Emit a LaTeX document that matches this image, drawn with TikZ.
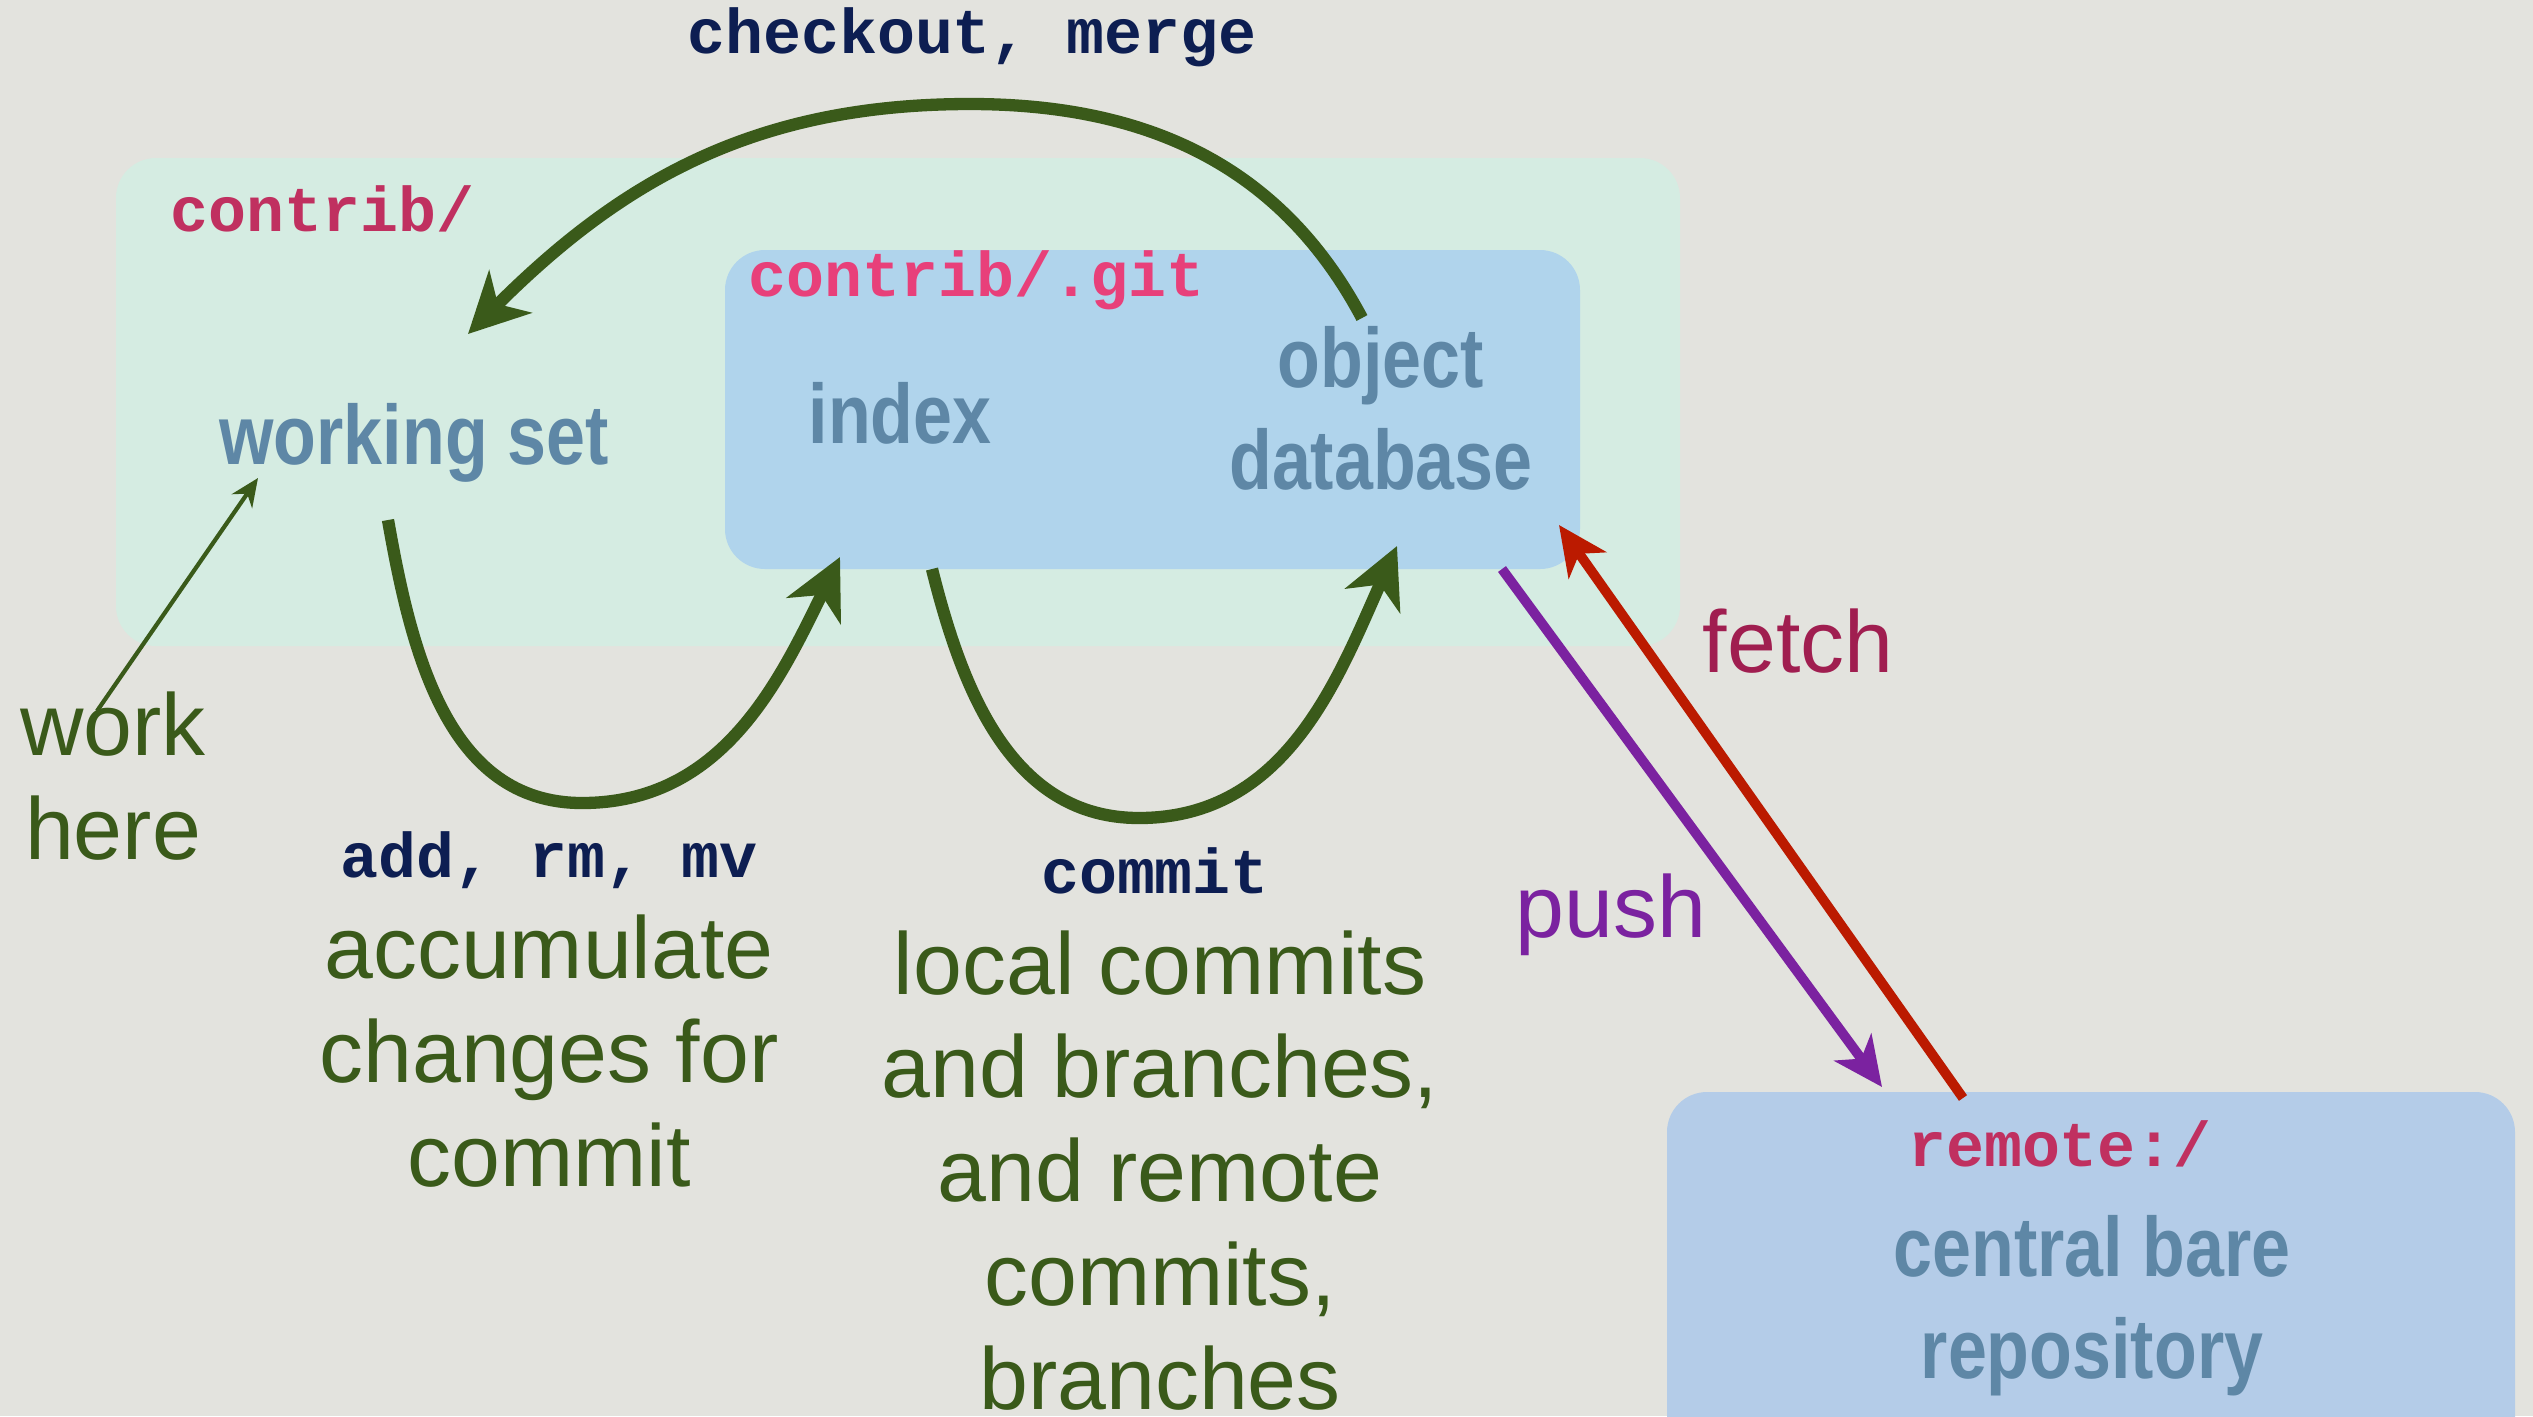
\documentclass[tikz,border=0pt]{standalone}
\usepackage{fontspec}
\setmainfont{Liberation Sans}
\setmonofont{Liberation Mono}
\newfontfamily\condfont[FakeStretch=0.83]{Liberation Sans}
\usetikzlibrary{arrows.meta, positioning}

\definecolor{paper}{RGB}{227,227,222}
\definecolor{workbg}{RGB}{213,236,226}
\definecolor{gitbg}{RGB}{176,212,236}
\definecolor{remotebg}{RGB}{180,204,232}
\definecolor{boxtext}{RGB}{94,135,166}
\definecolor{dirpink}{RGB}{192,48,96}
\definecolor{gitpink}{RGB}{232,64,122}
\definecolor{cmdnavy}{RGB}{13,30,82}
\definecolor{leaf}{RGB}{58,90,26}
\definecolor{pushpurple}{RGB}{123,34,160}
\definecolor{fetchred}{RGB}{187,26,0}
\definecolor{fetchtext}{RGB}{160,30,80}

\begin{document}
\begin{tikzpicture}[
    area/.style={rounded corners=0.4cm},
    place/.style={font=\condfont\bfseries\fontsize{24}{29}\selectfont, text=boxtext, align=center, anchor=base, inner sep=0pt},
    dirname/.style={font=\ttfamily\bfseries\fontsize{18}{21}\selectfont, anchor=base west, inner sep=0pt},
    cmd/.style={font=\ttfamily\bfseries\fontsize{18}{21}\selectfont, text=cmdnavy, anchor=base, inner sep=0pt},
    note/.style={font=\fontsize{25}{29.5}\selectfont, align=center, anchor=base, inner sep=0pt},
    flow/.style={line width=3.5pt, leaf, -{Stealth[length=17pt,width=17pt,inset=5pt]}},
    sync/.style={line width=2.8pt, -{Stealth[length=14pt,width=13pt,inset=4pt]}}
]
    % Paper & frame
    \fill[paper] (0,0) rectangle (25.33,-14.16);
    \clip (0,0) rectangle (25.33,-14.16);

    % Boxes: work tree, .git, remote
    \fill[workbg, area] (1.16,-1.58) rectangle (16.80,-6.46);
    \fill[gitbg, area] (7.25,-2.50) rectangle (15.80,-5.69);
    \fill[remotebg, area] (16.67,-10.92) rectangle (25.15,-14.60);

    % Directory names
    \node[dirname, text=dirpink] (wsdir) at (1.70,-2.31) {contrib/};
    \node[dirname, text=gitpink] (gitdir) at (7.48,-2.96) {contrib/.git};
    \node[dirname, text=dirpink, anchor=base] (remdir) at (20.60,-11.66) {remote:/};

    % Places (base = last line)
    \node[place] (ws) at (4.14,-4.64) {working set};
    \node[place] (idx) at (9.00,-4.43) {index};
    \node[place] (odb) at (13.81,-4.89) {object\\database};
    \node[place] (bare) at (20.92,-13.78) {central bare\\repository};

    % Git commands
    \node[cmd] (co) at (9.72,-0.53) {checkout, merge};
    \node[cmd] (arm) at (5.49,-8.77) {add, rm, mv};
    \node[cmd] (ci) at (11.55,-8.93) {commit};

    % Notes
    \node[note, text=leaf] (work) at (1.13,-8.59) {work\\here};
    \node[note, text=leaf] (accum) at (5.49,-11.86) {accumulate\\changes for\\commit};
    \node[note, text=leaf] (local) at (11.60,-14.09) {local commits\\and branches,\\and remote\\commits,\\branches};
    \node[note, text=fetchtext] (fetchlbl) at (17.98,-6.72) {fetch};
    \node[note, text=pushpurple] (pushlbl) at (16.11,-9.37) {push};

    % Arrow ends
    \coordinate (coStart) at (13.62,-3.18);
    \coordinate (coTop) at (9.70,-1.04);
    \coordinate (coEnd) at (4.68,-3.34);
    \coordinate (addStart) at (3.88,-5.20);
    \coordinate (addLow) at (5.82,-8.03);
    \coordinate (addEnd) at (8.40,-5.57);
    \coordinate (ciStart) at (9.32,-5.69);
    \coordinate (ciLow) at (11.39,-8.18);
    \coordinate (ciEnd) at (13.97,-5.46);
    \coordinate (pushStart) at (15.02,-5.69);
    \coordinate (pushEnd) at (18.82,-10.87);
    \coordinate (fetchStart) at (19.63,-10.98);
    \coordinate (fetchEnd) at (15.59,-5.25);
    \coordinate (workTail) at (0.97,-7.11);
    \coordinate (workTip) at (2.58,-4.78);

    % Connectors
    \draw[flow] (coStart) to[out=118,in=0] (coTop) to[out=180,in=45] (coEnd);
    \draw[flow] (addStart) to[out=-80,in=180] (addLow) to[out=0,in=-116] (addEnd);
    \draw[flow] (ciStart) to[out=-76,in=180] (ciLow) to[out=0,in=-114] (ciEnd);
    \draw[sync, pushpurple] (pushStart) -- (pushEnd);
    \draw[sync, fetchred] (fetchStart) -- (fetchEnd);
    \draw[leaf, line width=1.2pt, -{Stealth[length=8pt,width=7pt]}] (workTail) -- (workTip);
\end{tikzpicture}
\end{document}
